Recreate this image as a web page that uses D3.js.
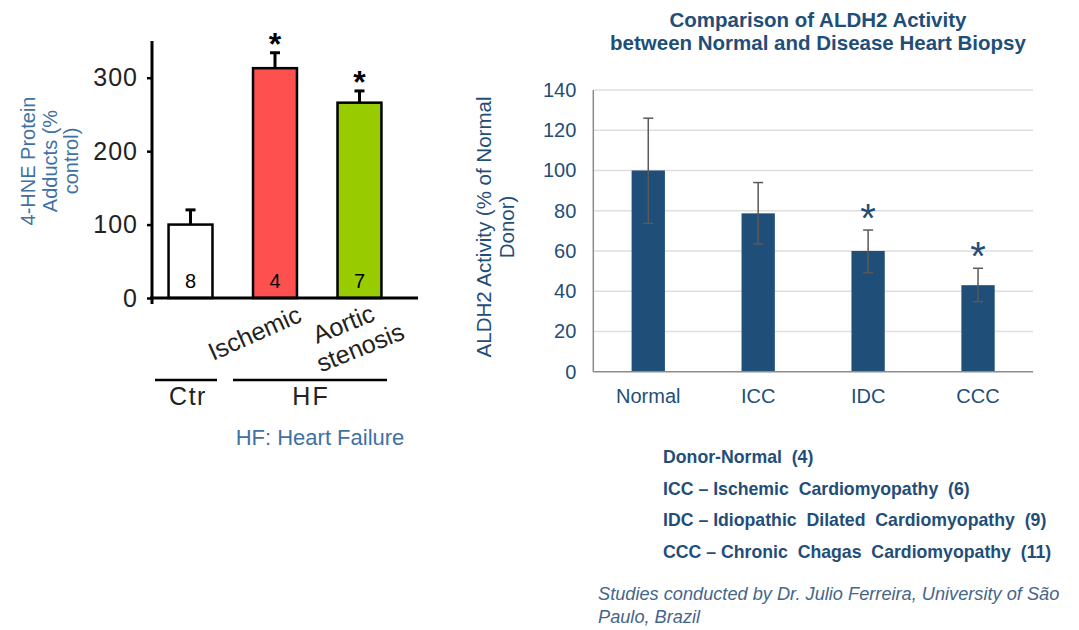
<!DOCTYPE html>
<html>
<head>
<meta charset="utf-8">
<script src="https://cdn.jsdelivr.net/npm/d3@7"></script>
<style>
  body { margin: 0; background: #fff; }
  svg { font-family: "Liberation Sans", Arial, sans-serif; }
</style>
</head>
<body>
<svg id="chart" width="1079" height="630"></svg>
<script>
// left panel: 4-HNE adducts
let hneGroups = ["Ctr", "Ischemic", "Aortic stenosis"];
let hneValues = [100, 313, 266];
let hneErrors = [20, 21, 16];
let hneN = ["8", "4", "7"];
let hneColors = ["#ffffff", "#ff5050", "#99cc00"];
let hneStars = [false, true, true];
let hneTicks = [0, 100, 200, 300];

// right panel: ALDH2 activity
let aldhGroups = ["Normal", "ICC", "IDC", "CCC"];
let aldhValues = [100, 78.7, 60, 43];
let aldhErrHi = [126, 94, 70.4, 51.4];
let aldhErrLo = [73.7, 63.5, 49.2, 34.8];
let aldhStars = [false, false, true, true];
let aldhTicks = [0, 20, 40, 60, 80, 100, 120, 140];
let legendLines = [
  "Donor-Normal  (4)",
  "ICC \u2013 Ischemic  Cardiomyopathy  (6)",
  "IDC \u2013 Idiopathic  Dilated  Cardiomyopathy  (9)",
  "CCC \u2013 Chronic  Chagas  Cardiomyopathy  (11)"
];

let svg = d3.select("#chart");
let blue = "#1f4e79";
let lightBlue = "#3f71a3";

// ---------- left chart ----------
let x1 = d3.scaleBand().domain(hneGroups).range([128, 422]).padding(0.48);
let y1 = d3.scaleLinear().domain([0, 350]).range([298, 41]);

let left = svg.append("g");

left.selectAll(".ebar")
  .data(hneGroups)
  .enter().append("line")
  .attr("x1", d => x1(d) + x1.bandwidth() / 2)
  .attr("x2", d => x1(d) + x1.bandwidth() / 2)
  .attr("y1", (d, i) => y1(hneValues[i]))
  .attr("y2", (d, i) => y1(hneValues[i] + hneErrors[i]))
  .attr("stroke", "#000").attr("stroke-width", 3);

left.selectAll(".ecap")
  .data(hneGroups)
  .enter().append("line")
  .attr("x1", d => x1(d) + x1.bandwidth() / 2 - 5)
  .attr("x2", d => x1(d) + x1.bandwidth() / 2 + 5)
  .attr("y1", (d, i) => y1(hneValues[i] + hneErrors[i]))
  .attr("y2", (d, i) => y1(hneValues[i] + hneErrors[i]))
  .attr("stroke", "#000").attr("stroke-width", 3);

left.selectAll("rect")
  .data(hneGroups)
  .enter().append("rect")
  .attr("x", d => x1(d))
  .attr("width", x1.bandwidth())
  .attr("y", (d, i) => y1(hneValues[i]))
  .attr("height", (d, i) => y1(0) - y1(hneValues[i]))
  .attr("fill", (d, i) => hneColors[i])
  .attr("stroke", "#000").attr("stroke-width", 2.5);

left.selectAll(".ntext")
  .data(hneGroups)
  .enter().append("text")
  .attr("x", d => x1(d) + x1.bandwidth() / 2)
  .attr("y", 288)
  .attr("text-anchor", "middle")
  .attr("font-size", 20)
  .text((d, i) => hneN[i]);

left.selectAll(".star")
  .data(hneGroups.filter((d, i) => hneStars[i]))
  .enter().append("text")
  .attr("x", d => x1(d) + x1.bandwidth() / 2)
  .attr("y", d => y1(hneValues[hneGroups.indexOf(d)] + hneErrors[hneGroups.indexOf(d)]) + 2)
  .attr("text-anchor", "middle")
  .attr("font-size", 32).attr("font-weight", "bold")
  .text("*");

let yAxis1 = left.append("g")
  .attr("transform", "translate(152,0)")
  .call(d3.axisLeft(y1).tickValues(hneTicks).tickSize(5).tickPadding(9));
yAxis1.select(".domain").remove();
yAxis1.selectAll("line").attr("stroke", "#000").attr("stroke-width", 2.5);
yAxis1.selectAll("text").attr("font-size", 25).attr("fill", "#222")
  .attr("letter-spacing", 1)
  .attr("font-family", "Liberation Sans, Arial, sans-serif");

left.append("line").attr("x1", 152).attr("x2", 152).attr("y1", 41).attr("y2", 304)
  .attr("stroke", "#000").attr("stroke-width", 3);
left.append("line").attr("x1", 150).attr("x2", 418).attr("y1", y1(0)).attr("y2", y1(0))
  .attr("stroke", "#000").attr("stroke-width", 3);

// rotated category names
left.append("text")
  .attr("transform", "translate(213,361) rotate(-24)")
  .attr("font-size", 25).attr("fill", "#222")
  .text("Ischemic");
let aort = left.append("text")
  .attr("transform", "translate(317,344) rotate(-22)")
  .attr("font-size", 25).attr("fill", "#222");
aort.append("tspan").attr("x", 0).attr("y", 0).text("Aortic");
aort.append("tspan").attr("x", 0).attr("dx", -7).attr("y", 28).text("stenosis");

// group brackets
left.append("line").attr("x1", 155).attr("x2", 217).attr("y1", 380).attr("y2", 380)
  .attr("stroke", "#000").attr("stroke-width", 2.5);
left.append("line").attr("x1", 233).attr("x2", 387).attr("y1", 380).attr("y2", 380)
  .attr("stroke", "#000").attr("stroke-width", 2.5);
left.append("text").attr("x", 188).attr("y", 405).attr("text-anchor", "middle")
  .attr("font-size", 25).attr("letter-spacing", 1.5).attr("fill", "#222").text("Ctr");
left.append("text").attr("x", 311).attr("y", 405).attr("text-anchor", "middle")
  .attr("font-size", 25).attr("letter-spacing", 2).attr("fill", "#222").text("HF");
left.append("text").attr("x", 320).attr("y", 445).attr("text-anchor", "middle")
  .attr("font-size", 22).attr("fill", lightBlue).text("HF: Heart Failure");

let ylab1 = left.append("text")
  .attr("transform", "translate(35,161) rotate(-90)")
  .attr("text-anchor", "middle")
  .attr("font-size", 20).attr("fill", lightBlue);
ylab1.append("tspan").attr("x", 0).attr("y", 0).text("4-HNE Protein");
ylab1.append("tspan").attr("x", 0).attr("y", 22).text("Adducts (%");
ylab1.append("tspan").attr("x", 0).attr("y", 43).text("control)");

// ---------- right chart ----------
let x2 = d3.scaleBand().domain(aldhGroups).range([593.3, 1033]).paddingInner(0.697).paddingOuter(0.3485);
let y2 = d3.scaleLinear().domain([0, 140]).range([371.7, 90]);

let right = svg.append("g");

right.selectAll(".grid")
  .data(aldhTicks.slice(1))
  .enter().append("line")
  .attr("x1", 593.3).attr("x2", 1033)
  .attr("y1", d => y2(d)).attr("y2", d => y2(d))
  .attr("stroke", "#dedede").attr("stroke-width", 1.5);

right.selectAll("rect")
  .data(aldhGroups)
  .enter().append("rect")
  .attr("x", d => x2(d))
  .attr("width", x2.bandwidth())
  .attr("y", (d, i) => y2(aldhValues[i]))
  .attr("height", (d, i) => y2(0) - y2(aldhValues[i]))
  .attr("fill", blue);

right.selectAll(".ebar")
  .data(aldhGroups)
  .enter().append("line")
  .attr("x1", d => x2(d) + x2.bandwidth() / 2)
  .attr("x2", d => x2(d) + x2.bandwidth() / 2)
  .attr("y1", (d, i) => y2(aldhErrLo[i]))
  .attr("y2", (d, i) => y2(aldhErrHi[i]))
  .attr("stroke", "#595959").attr("stroke-width", 1.5);

[aldhErrLo, aldhErrHi].forEach(arr => {
  right.selectAll(null)
    .data(aldhGroups)
    .enter().append("line")
    .attr("x1", d => x2(d) + x2.bandwidth() / 2 - 5)
    .attr("x2", d => x2(d) + x2.bandwidth() / 2 + 5)
    .attr("y1", (d, i) => y2(arr[i]))
    .attr("y2", (d, i) => y2(arr[i]))
    .attr("stroke", "#595959").attr("stroke-width", 1.5);
});

right.selectAll(".star")
  .data(aldhGroups.filter((d, i) => aldhStars[i]))
  .enter().append("text")
  .attr("x", d => x2(d) + x2.bandwidth() / 2)
  .attr("y", d => y2(aldhErrHi[aldhGroups.indexOf(d)]) + 2)
  .attr("text-anchor", "middle")
  .attr("font-size", 40).attr("fill", blue)
  .text("*");

let yAxis2 = right.append("g")
  .attr("transform", "translate(593.3,0)")
  .call(d3.axisLeft(y2).tickValues(aldhTicks).tickSize(0).tickPadding(17));
yAxis2.select(".domain").remove();
yAxis2.selectAll("text").attr("font-size", 20).attr("fill", blue)
  .attr("font-family", "Liberation Sans, Arial, sans-serif");

let xAxis2 = right.append("g")
  .attr("transform", "translate(0," + y2(0) + ")")
  .call(d3.axisBottom(x2).tickSize(0).tickPadding(17));
xAxis2.select(".domain").remove();
xAxis2.selectAll("text").attr("font-size", 20).attr("fill", blue)
  .attr("font-family", "Liberation Sans, Arial, sans-serif");

right.append("line").attr("x1", 593.3).attr("x2", 593.3).attr("y1", 90).attr("y2", y2(0))
  .attr("stroke", "#8c8c8c").attr("stroke-width", 1.5);
right.append("line").attr("x1", 593.3).attr("x2", 1033).attr("y1", y2(0)).attr("y2", y2(0))
  .attr("stroke", "#8c8c8c").attr("stroke-width", 1.5);

let title = right.append("text")
  .attr("text-anchor", "middle")
  .attr("font-size", 20.5).attr("font-weight", "bold").attr("fill", blue);
title.append("tspan").attr("x", 818).attr("y", 26.5).text("Comparison of ALDH2 Activity");
title.append("tspan").attr("x", 818).attr("y", 49.5).text("between Normal and Disease Heart Biopsy");

let ylab2 = right.append("text")
  .attr("transform", "translate(491,227) rotate(-90)")
  .attr("text-anchor", "middle")
  .attr("font-size", 20.5).attr("fill", blue);
ylab2.append("tspan").attr("x", 0).attr("y", 0).text("ALDH2 Activity (% of Normal");
ylab2.append("tspan").attr("x", 0).attr("y", 23).text("Donor)");

right.selectAll(".legend")
  .data(legendLines)
  .enter().append("text")
  .attr("x", 663)
  .attr("y", (d, i) => 463 + i * 31.5)
  .attr("font-size", 17.7).attr("font-weight", "bold").attr("fill", blue)
  .attr("xml:space", "preserve")
  .style("white-space", "pre")
  .text(d => d);

let foot = right.append("text")
  .attr("font-size", 18.2).attr("font-style", "italic").attr("fill", "#45668a");
foot.append("tspan").attr("x", 598).attr("y", 600).text("Studies conducted by Dr. Julio Ferreira, University of São");
foot.append("tspan").attr("x", 598).attr("y", 623).text("Paulo, Brazil");
</script>
</body>
</html>
